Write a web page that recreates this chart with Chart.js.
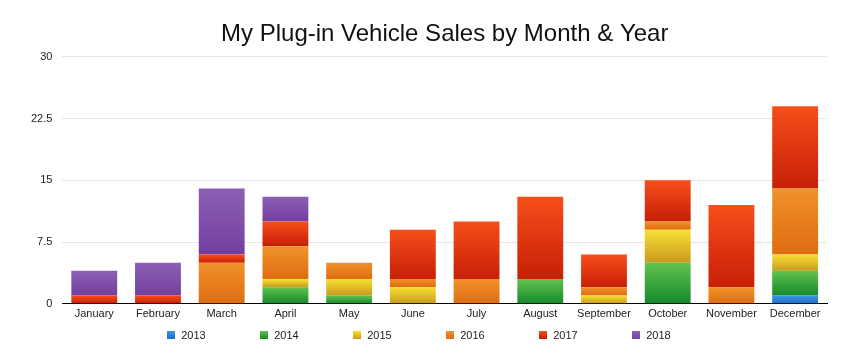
<!DOCTYPE html>
<html>
<head>
<meta charset="utf-8">
<script src="https://cdn.jsdelivr.net/npm/chart.js@4/dist/chart.umd.min.js"></script>
<style>
    html, body { margin: 0; padding: 0; background: #fff; }
    #wrap { position: relative; width: 842px; height: 360px; }
    #legend {
        position: absolute; left: -2px; top: 329px; width: 842px;
        display: flex; justify-content: center;
        font: 11px 'Liberation Sans', Arial, Helvetica, sans-serif; color: #222;
    }
    #legend .item { display: flex; align-items: center; width: 93px; }
    #legend .item:last-child { width: auto; }
    #legend .box { width: 8px; height: 8px; margin-right: 6px; }
</style>
</head>
<body>
<div id="wrap">
    <canvas id="salesChart" width="842" height="360"></canvas>
    <div id="legend"></div>
</div>
<script>
// Months along the x axis
const months = ['January', 'February', 'March', 'April', 'May', 'June',
    'July', 'August', 'September', 'October', 'November', 'December'];

// Sales per model year, one value per month
const years = ['2013', '2014', '2015', '2016', '2017', '2018'];
const sales2013 = [0, 0, 0, 0, 0, 0, 0, 0, 0, 0, 0, 1];
const sales2014 = [0, 0, 0, 2, 1, 0, 0, 3, 0, 5, 0, 3];
const sales2015 = [0, 0, 0, 1, 2, 2, 0, 0, 1, 4, 0, 2];
const sales2016 = [0, 0, 5, 4, 2, 1, 3, 0, 1, 1, 2, 8];
const sales2017 = [1, 1, 1, 3, 0, 6, 7, 10, 4, 5, 10, 10];
const sales2018 = [3, 4, 8, 3, 0, 0, 0, 0, 0, 0, 0, 0];
const yTicks = [0, 7.5, 15, 22.5, 30];

const series = [sales2013, sales2014, sales2015, sales2016, sales2017, sales2018];

// top / bottom colour of each year's gradient
const palette = [
    ['#3d95ea', '#1a6cc8'],
    ['#62c24e', '#148a2c'],
    ['#f7e033', '#c89a1e'],
    ['#f0922a', '#de6c10'],
    ['#f74e1a', '#c61f07'],
    ['#8c5fb4', '#733f9f']
];

function segmentFill(ctx) {
    const d = ctx.datasetIndex;
    const [top, bottom] = palette[d];
    const chart = ctx.chart;
    if (ctx.type !== 'data' || !chart.chartArea || !chart.scales.y) return bottom;
    const i = ctx.dataIndex;
    let base = 0;
    for (let k = 0; k < d; k++) base += series[k][i];
    const y0 = chart.scales.y.getPixelForValue(base + series[d][i]);
    const y1 = chart.scales.y.getPixelForValue(base);
    if (!isFinite(y0) || !isFinite(y1) || y1 - y0 < 1) return bottom;
    const g = chart.ctx.createLinearGradient(0, y0, 0, y1);
    g.addColorStop(0, top);
    g.addColorStop(1, bottom);
    return g;
}

const datasets = years.map((year, d) => ({
    label: year,
    data: series[d],
    backgroundColor: segmentFill,
    borderWidth: 0,
    barPercentage: 0.72,
    categoryPercentage: 1
}));

const font = 'Liberation Sans, Arial, Helvetica, sans-serif';

new Chart(document.getElementById('salesChart'), {
    type: 'bar',
    data: { labels: months, datasets },
    options: {
        responsive: false,
        animation: false,
        layout: { padding: { left: 21, right: 15, top: 0, bottom: 35 } },
        plugins: {
            title: {
                display: true,
                fullSize: false,
                text: 'My Plug-in Vehicle Sales by Month & Year',
                color: '#111',
                font: { family: font, size: 24, weight: 'normal' },
                padding: { top: 20, bottom: 8 }
            },
            legend: { display: false },
            tooltip: { enabled: false }
        },
        scales: {
            x: {
                stacked: true,
                grid: { display: false, drawTicks: false },
                border: { color: '#000', width: 1 },
                ticks: { color: '#222', font: { family: font, size: 11 }, maxRotation: 0, padding: 4 }
            },
            y: {
                stacked: true,
                min: 0,
                max: 30,
                afterBuildTicks(axis) {
                    axis.ticks = yTicks.map(v => ({ value: v }));
                },
                grid: { color: '#e6e6e6', drawTicks: false },
                border: { display: false },
                ticks: { color: '#222', font: { family: font, size: 11 }, padding: 10 }
            }
        }
    }
});

// Legend built from the same years / colours
const legend = document.getElementById('legend');
years.forEach((year, d) => {
    const item = document.createElement('div');
    item.className = 'item';
    const box = document.createElement('span');
    box.className = 'box';
    box.style.background = `linear-gradient(${palette[d][0]}, ${palette[d][1]})`;
    const label = document.createElement('span');
    label.textContent = year;
    item.appendChild(box);
    item.appendChild(label);
    legend.appendChild(item);
});
</script>
</body>
</html>
